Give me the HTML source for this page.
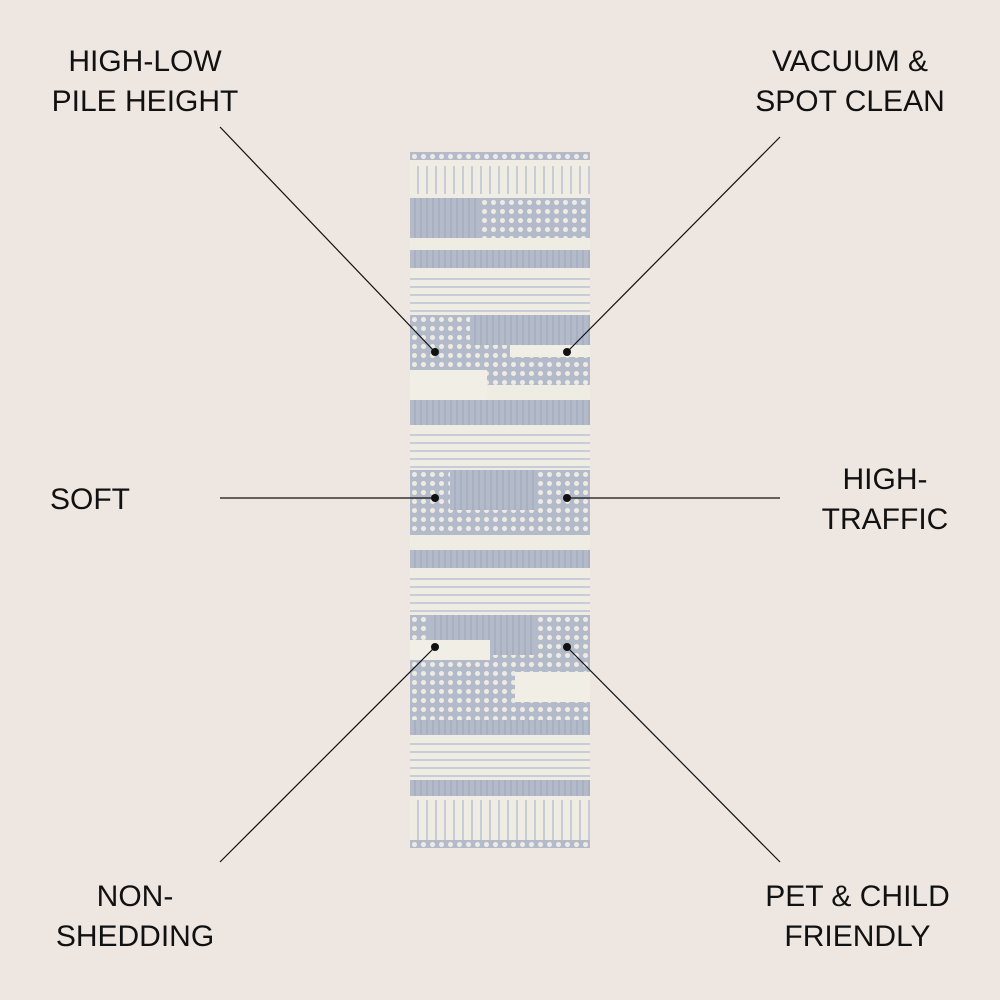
<!DOCTYPE html>
<html><head><style>
body{margin:0;width:1000px;height:1000px;background:#ede6e1;position:relative;overflow:hidden;font-family:"Liberation Sans",sans-serif;color:#111}
.t{position:absolute;font-size:30px;line-height:40px;text-align:center;white-space:nowrap}
.rug{position:absolute;left:410px;top:152px;width:180px;height:696px;background:#efece4;overflow:hidden}
.g{position:absolute;left:0;width:180px;background:#b3bbcb}
.d{background-color:#b3bbcb;background-image:radial-gradient(circle,#eeebe3 2.2px,transparent 2.8px);background-size:9px 9px}
.c{position:absolute;background:#f1eee6}
.dash{position:absolute;left:0;width:180px;background-image:repeating-linear-gradient(180deg,transparent 0 6px,#c8ccd6 6px 8px)}
.v{background-image:repeating-linear-gradient(90deg,#b3bbcb 0 4px,#a8b0c1 4px 6px)}
</style></head><body>
<div class="t" style="left:35px;top:42px;width:220px">HIGH-LOW<br>PILE HEIGHT</div>
<div class="t" style="left:740px;top:42px;width:220px">VACUUM &amp;<br>SPOT CLEAN</div>
<div class="t" style="left:50px;top:480px;text-align:left">SOFT</div>
<div class="t" style="left:795px;top:460px;width:180px">HIGH-<br>TRAFFIC</div>
<div class="t" style="left:30px;top:877px;width:210px">NON-<br>SHEDDING</div>
<div class="t" style="left:750px;top:877px;width:215px">PET &amp; CHILD<br>FRIENDLY</div>
<div class="rug">
 <div class="g d" style="top:0;height:8px"></div>
 <div class="dash" style="top:14px;height:28px;background-image:repeating-linear-gradient(90deg,transparent 0 7px,#c8ccd6 7px 9px)"></div>
 <div class="g v" style="top:46px;height:40px;width:70px"></div>
 <div class="g d" style="top:46px;height:40px;left:70px;width:110px"></div>
 <div class="g v" style="top:98px;height:18px"></div>
 <div class="dash" style="top:120px;height:42px"></div>
 <div class="g d" style="top:163px;height:70px"></div>
 <div class="g v" style="top:163px;height:30px;left:60px;width:120px"></div>
 <div class="c" style="left:100px;top:193px;width:80px;height:12px"></div>
 <div class="c" style="left:0;top:218px;width:77px;height:30px"></div>
 <div class="g v" style="top:248px;height:25px"></div>
 <div class="dash" style="top:276px;height:42px"></div>
 <div class="g d" style="top:318px;height:65px"></div>
 <div class="g v" style="top:318px;height:40px;left:40px;width:85px"></div>
 <div class="g v" style="top:398px;height:18px"></div>
 <div class="dash" style="top:420px;height:42px"></div>
 <div class="g d" style="top:463px;height:110px"></div>
 <div class="g v" style="top:463px;height:40px;left:20px;width:105px"></div>
 <div class="c" style="left:0;top:488px;width:80px;height:20px"></div>
 <div class="c" style="left:105px;top:520px;width:75px;height:30px"></div>
 <div class="g v" style="top:568px;height:15px"></div>
 <div class="dash" style="top:585px;height:42px"></div>
 <div class="g v" style="top:628px;height:16px"></div>
 <div class="dash" style="top:648px;height:40px;background-image:repeating-linear-gradient(90deg,transparent 0 7px,#c8ccd6 7px 9px)"></div>
 <div class="g d" style="top:688px;height:8px"></div>
</div>
<svg width="1000" height="1000" style="position:absolute;left:0;top:0">
<g stroke="#111" stroke-width="1.2">
<line x1="220" y1="127" x2="435" y2="352"/>
<line x1="780" y1="137" x2="567" y2="352"/>
<line x1="220" y1="498" x2="435" y2="498"/>
<line x1="780" y1="498" x2="567" y2="498"/>
<line x1="220" y1="862" x2="435" y2="647"/>
<line x1="780" y1="862" x2="567" y2="647"/>
</g>
<g fill="#111">
<circle cx="435" cy="352" r="4"/><circle cx="567" cy="352" r="4"/>
<circle cx="435" cy="498" r="4"/><circle cx="567" cy="498" r="4"/>
<circle cx="435" cy="647" r="4"/><circle cx="567" cy="647" r="4"/>
</g>
</svg>
</body></html>
